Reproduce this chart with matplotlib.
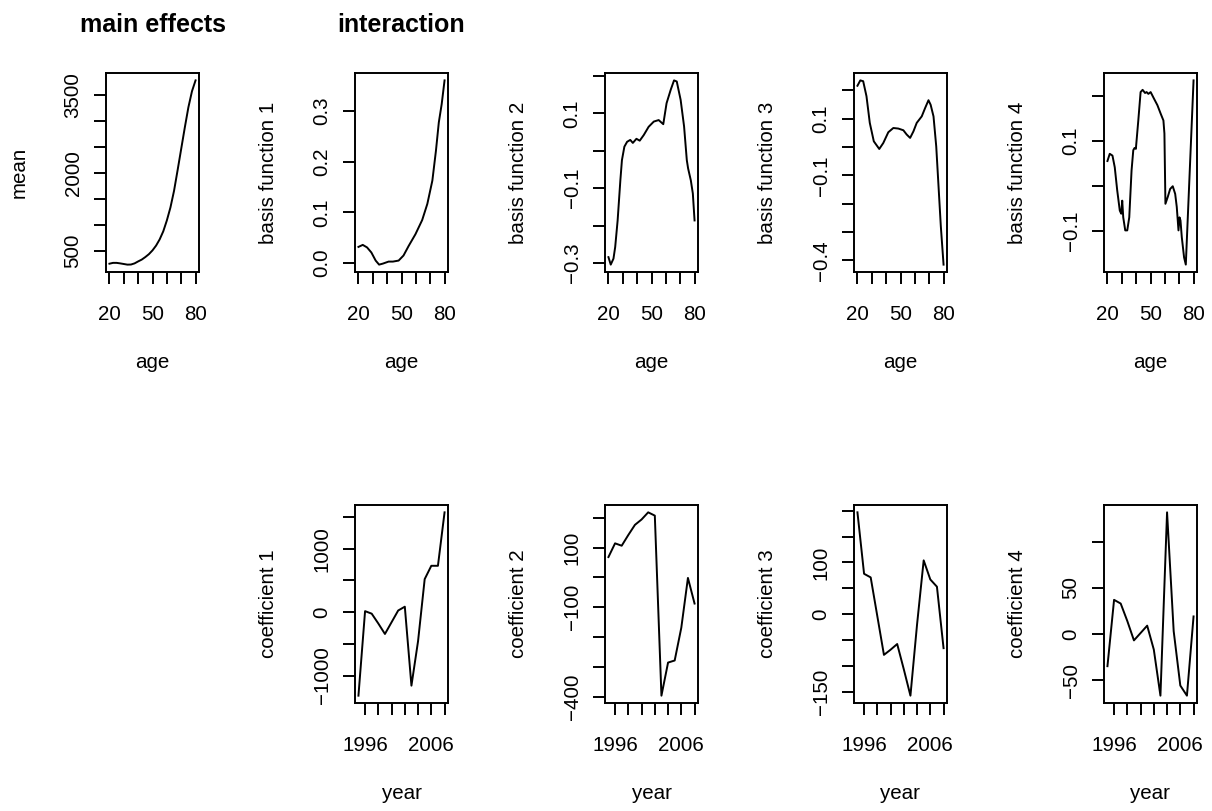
import matplotlib
matplotlib.use("Agg")
import matplotlib.pyplot as plt

plt.rcParams['font.family'] = ['Liberation Sans', 'DejaVu Sans']

# ---------------- data ----------------
ages_mean = [20, 22.5, 25, 27.5, 30, 32.5, 35, 37.5, 40, 42.5, 45, 47.5, 50,
             52.5, 55, 57.5, 60, 62.5, 65, 67.5, 70, 72.5, 75, 77.5, 80]
mean_vals = [256, 272, 272, 262, 250, 238, 240, 262, 300, 335, 384, 440, 513,
             605, 725, 880, 1090, 1340, 1660, 2060, 2470, 2880, 3270, 3580, 3790]

ages_b1 = [20, 23, 26, 29, 32, 34.4, 37, 41, 44, 48, 51.4, 55, 59.7, 64.4,
           68, 71.5, 74, 76, 78, 80]
basis1 = [0.032, 0.036, 0.031, 0.021, 0.005, -0.003, -0.001, 0.003, 0.003,
          0.005, 0.015, 0.034, 0.057, 0.085, 0.117, 0.163, 0.222, 0.278,
          0.314, 0.361]

ages_b2 = [20, 21.6, 23.5, 24.7, 26.4, 28.3, 29.4, 31.1, 33, 35.2, 37, 39.5,
           41.8, 44.6, 48, 51.6, 55, 58.2, 60.5, 63.4, 65.7, 67.6, 70.3, 72.7,
           74.6, 75.5, 77.4, 78.8, 80]
basis2 = [-0.284, -0.304, -0.288, -0.257, -0.186, -0.079, -0.025, 0.011,
          0.024, 0.029, 0.021, 0.032, 0.027, 0.042, 0.064, 0.078, 0.082,
          0.071, 0.127, 0.163, 0.188, 0.185, 0.136, 0.065, -0.025, -0.047,
          -0.079, -0.114, -0.186]

ages_b3 = [20, 22, 24, 26.3, 28.6, 31.4, 35.2, 38, 41.5, 45, 48.5, 52, 54.3,
           56.7, 59, 61.3, 64.8, 67.2, 69.5, 71, 73, 74.9, 76.5, 78.1, 80]
basis3 = [0.216, 0.235, 0.232, 0.179, 0.085, 0.020, -0.007, 0.014, 0.052,
          0.067, 0.065, 0.059, 0.044, 0.032, 0.055, 0.085, 0.108, 0.138,
          0.165, 0.149, 0.108, 0.002, -0.139, -0.280, -0.415]

ages_b4 = [20, 21.6, 23.5, 25.1, 26.8, 28.6, 29.6, 30.3, 31, 32.4, 33.8, 35.2,
           36.8, 38, 38.9, 39.8, 41.5, 43.1, 44.5, 46.2, 47.3, 48.5, 50.1,
           52.5, 54.8, 57.1, 59, 59.7, 60.4, 62, 63.7, 65.5, 67.2, 68.3, 69.5,
           70.2, 70.9, 71.8, 73.4, 74.6, 80]
basis4 = [0.055, 0.071, 0.067, 0.041, -0.010, -0.055, -0.062, -0.033, -0.070,
          -0.099, -0.099, -0.070, 0.034, 0.079, 0.084, 0.082, 0.145, 0.208,
          0.213, 0.206, 0.208, 0.204, 0.208, 0.193, 0.179, 0.160, 0.145,
          0.116, -0.040, -0.025, -0.007, -0.001, -0.018, -0.047, -0.099,
          -0.070, -0.077, -0.114, -0.159, -0.175, 0.234]

years = [1995, 1996, 1997, 1998, 1999, 2000, 2001, 2002, 2003, 2004, 2005,
         2006, 2007, 2008]
coef1 = [-1318, 15, -25, -180, -345, -160, 25, 85, -1160, -458, 520, 730, 730, 1573]
coef2 = [68, 114, 106, 142, 176, 194, 218, 207, -397, -286, -279, -169, -2, -88]
coef3 = [197, 78, 71, -4, -79, -69, -58, -107, -158, -20, 104, 67, 53, -66]
coef4 = [-35, 37, 33, 14, -7, 1, 9, -17, -67, 132, 3, -56, -67, 19]

age_ticks = [20, 30, 40, 50, 60, 70, 80]
age_tick_labels = ['20', '', '', '50', '', '', '80']
year_ticks = [1996, 1998, 2000, 2002, 2004, 2006, 2008]
year_tick_labels = ['1996', '', '', '', '', '2006', '']

top_panels = [
    ("mean", ages_mean, mean_vals,
     [500, 1000, 1500, 2000, 2500, 3000, 3500],
     ['500', '', '', '2000', '', '', '3500']),
    ("basis function 1", ages_b1, basis1,
     [0.0, 0.1, 0.2, 0.3], ['0.0', '0.1', '0.2', '0.3']),
    ("basis function 2", ages_b2, basis2,
     [-0.3, -0.2, -0.1, 0.0, 0.1, 0.2],
     ['\u22120.3', '', '\u22120.1', '', '0.1', '']),
    ("basis function 3", ages_b3, basis3,
     [-0.4, -0.3, -0.2, -0.1, 0.0, 0.1, 0.2],
     ['\u22120.4', '', '', '\u22120.1', '', '0.1', '']),
    ("basis function 4", ages_b4, basis4,
     [-0.1, 0.0, 0.1, 0.2], ['\u22120.1', '', '0.1', '']),
]
bottom_panels = [
    ("coefficient 1", coef1, [-1000, -500, 0, 500, 1000, 1500],
     ['\u22121000', '', '0', '', '1000', '']),
    ("coefficient 2", coef2, [-400, -300, -200, -100, 0, 100, 200],
     ['\u2212400', '', '', '\u2212100', '', '100', '']),
    ("coefficient 3", coef3, [-150, -100, -50, 0, 50, 100, 150, 200],
     ['\u2212150', '', '', '0', '', '100', '', '']),
    ("coefficient 4", coef4, [-50, 0, 50, 100],
     ['\u221250', '0', '50', '']),
]

# ---------------- layout ----------------
W, H = 1212, 811
fig = plt.figure(figsize=(W / 100, H / 100), dpi=100)
lefts = [106, 355, 605, 854, 1104]
box_w = 93
FS = 14.8


def padded(lo, hi):
    r = hi - lo
    return lo - 0.04 * r, hi + 0.04 * r


def style(ax, xlabel, ylabel, xt, xtl, yt, ytl, h_px):
    for sp in ax.spines.values():
        sp.set_linewidth(1.4)
    ax.tick_params(direction='out', length=8.5, width=1.4, color='black')
    ax.tick_params(axis='x', pad=15)
    ax.tick_params(axis='y', pad=8.4)
    ax.set_xticks(xt, xtl, fontsize=FS)
    ax.set_yticks(yt, ytl, fontsize=FS, rotation=90, va='center')
    ax.set_xlabel(xlabel, fontsize=FS, va='baseline')
    ax.xaxis.set_label_coords(0.5, -96 / h_px)
    ax.set_ylabel(ylabel, fontsize=FS, va='baseline')
    ax.yaxis.set_label_coords(-81 / box_w, 0.5)


# top row
for i, (ylab, xs, ys, yt, ytl) in enumerate(top_panels):
    h_px = 199
    ax = fig.add_axes([lefts[i] / W, (H - 272) / H, box_w / W, h_px / H])
    ax.plot(xs, ys, color='black', lw=1.4)
    ax.set_xlim(*padded(20, 80))
    ax.set_ylim(*padded(min(ys), max(ys)))
    style(ax, "age", ylab, age_ticks, age_tick_labels, yt, ytl, h_px)
    if i == 0:
        ax.set_title("main effects", fontsize=18, fontweight='bold', pad=29.5)
    if i == 1:
        ax.set_title("interaction", fontsize=18, fontweight='bold', pad=29.5)

# bottom row
for j, (ylab, ys, yt, ytl) in enumerate(bottom_panels):
    h_px = 198
    ax = fig.add_axes([lefts[j + 1] / W, (H - 703) / H, box_w / W, h_px / H])
    ax.plot(years, ys, color='black', lw=1.4)
    ax.set_xlim(*padded(min(years), max(years)))
    ax.set_ylim(*padded(min(ys), max(ys)))
    style(ax, "year", ylab, year_ticks, year_tick_labels, yt, ytl, h_px)

fig.savefig("out.png", dpi=100)
